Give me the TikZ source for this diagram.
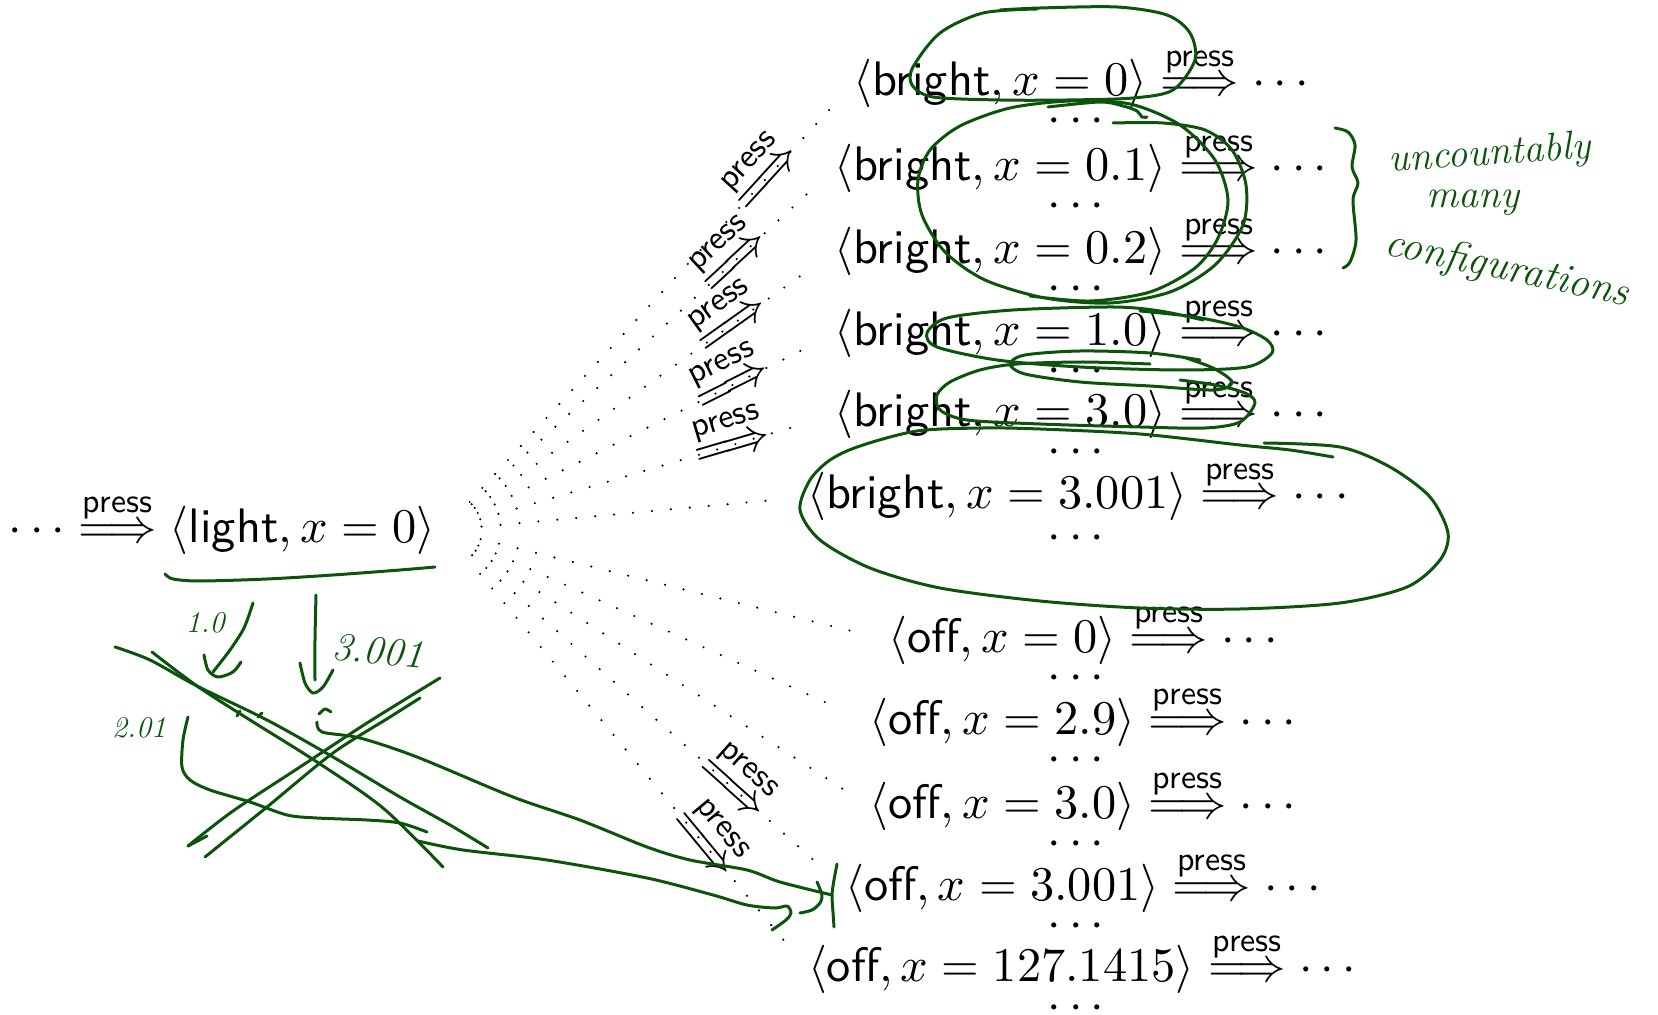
\documentclass[tikz,border=0pt]{standalone}
\usepackage{amsmath}
\usepackage[no-math]{fontspec}
\setsansfont{lmsans10-regular.otf}
\usetikzlibrary{calc}
\DeclareFontShape{OT1}{cmr}{m}{n}{<->cmr10}{}
\DeclareFontShape{OML}{cmm}{m}{it}{<->cmmi10}{}
\DeclareFontShape{OMS}{cmsy}{m}{n}{<->cmsy10}{}
\DeclareFontShape{OMX}{cmex}{m}{n}{<->cmex10}{}
\definecolor{ink}{RGB}{12,84,12}
\newcommand{\pressarr}{\overset{\text{\sffamily press}}{\Longrightarrow}}
\tikzset{
  conf/.style={anchor=base, inner sep=0pt, font=\fontsize{24.2pt}{29pt}\selectfont},
  diag/.style={sloped, anchor=base, inner sep=0pt, font=\fontsize{24.2pt}{29pt}\selectfont},
  ray/.style={line width=1.2pt, line cap=round, dash pattern=on 0pt off 9.5pt, shorten >=15pt},
  hand/.style={draw=ink, line width=1.5pt, line cap=round, line join=round},
  handtext/.style={text=ink, inner sep=0pt, font=\itshape\fontsize{20pt}{24pt}\selectfont},
}
\begin{document}
\begin{tikzpicture}[x=0.5pt, y=-0.5pt]
\useasboundingbox (0,0) rectangle (1658,1015);

% left configuration
\node[conf] (light) at (222,542) {$\cdots \pressarr \langle\textsf{light}, x = 0\rangle$};
\coordinate (fan) at ($(light.base east)+(8,-12)$);

% right configurations
\node[conf] (b0)    at (1085,96)  {$\langle\textsf{bright}, x = 0\rangle \pressarr \cdots$};
\node[conf] (b01)   at (1085,181) {$\langle\textsf{bright}, x = 0.1\rangle \pressarr \cdots$};
\node[conf] (b02)   at (1085,264) {$\langle\textsf{bright}, x = 0.2\rangle \pressarr \cdots$};
\node[conf] (b10)   at (1085,346) {$\langle\textsf{bright}, x = 1.0\rangle \pressarr \cdots$};
\node[conf] (b30)   at (1085,427) {$\langle\textsf{bright}, x = 3.0\rangle \pressarr \cdots$};
\node[conf] (b3001) at (1082,509) {$\langle\textsf{bright}, x = 3.001\rangle \pressarr \cdots$};
\node[conf] (o0)    at (1087,652) {$\langle\textsf{off}, x = 0\rangle \pressarr \cdots$};
\node[conf] (o29)   at (1087,734) {$\langle\textsf{off}, x = 2.9\rangle \pressarr \cdots$};
\node[conf] (o30)   at (1087,818) {$\langle\textsf{off}, x = 3.0\rangle \pressarr \cdots$};
\node[conf] (o3001) at (1087,900) {$\langle\textsf{off}, x = 3.001\rangle \pressarr \cdots$};
\node[conf] (o127)  at (1086,981) {$\langle\textsf{off}, x = 127.1415\rangle \pressarr \cdots$};

% dots below each configuration
\node[conf] (c0)  at (1080,133)  {$\cdots$};
\node[conf] (c1)  at (1080,218)  {$\cdots$};
\node[conf] (c2)  at (1080,301)  {$\cdots$};
\node[conf] (c3)  at (1080,383)  {$\cdots$};
\node[conf] (c4)  at (1080,464)  {$\cdots$};
\node[conf] (c5)  at (1080,549)  {$\cdots$};
\node[conf] (c6)  at (1080,689)  {$\cdots$};
\node[conf] (c7)  at (1080,771)  {$\cdots$};
\node[conf] (c8)  at (1080,855)  {$\cdots$};
\node[conf] (c9)  at (1080,937)  {$\cdots$};
\node[conf] (c10) at (1080,1019) {$\cdots$};

% fan of dotted successor lines
\begin{scope}
\clip (469,0) rectangle (1658,1015);
\foreach \n in {b0,b01,b02,b10,b30,b3001,o0,o29,o30,o3001,o127}
  \draw[ray] (fan) -- ($(\n.base west)+(0,-12)$);
\end{scope}
\path (fan) -- node[diag,pos=.79] (p1) {\raisebox{-6.05pt}{$\pressarr$}} ($(b0.base west)+(0,-12)$);
\path (fan) -- node[diag,pos=.745] (p2) {\raisebox{-6.05pt}{$\pressarr$}} ($(b01.base west)+(0,-12)$);
\path (fan) -- node[diag,pos=.74] (p3) {\raisebox{-6.05pt}{$\pressarr$}} ($(b02.base west)+(0,-12)$);
\path (fan) -- node[diag,pos=.74] (p4) {\raisebox{-6.05pt}{$\pressarr$}} ($(b10.base west)+(0,-12)$);
\path (fan) -- node[diag,pos=.74] (p5) {\raisebox{-6.05pt}{$\pressarr$}} ($(b30.base west)+(0,-12)$);
\path (fan) -- node[diag,pos=.72] (p6) {\raisebox{-6.05pt}{$\pressarr$}} ($(o3001.base west)+(0,-12)$);
\path (fan) -- node[diag,pos=.715] (p7) {\raisebox{-6.05pt}{$\pressarr$}} ($(o127.base west)+(0,-12)$);

% ---------- handwritten annotations ----------
% underline of light
\draw[hand] plot[smooth] coordinates {(165,574) (173,579) (200,581) (267,579) (333,575) (400,570) (435,567)};
% 1.0 arrow
\draw[hand] plot[smooth] coordinates {(253,603) (244,628) (230,650) (213,672)};
\draw[hand] plot[smooth] coordinates {(204,655) (208,670) (218,677) (233,672) (241,662)};
\node[handtext, font=\itshape\fontsize{15pt}{18pt}\selectfont] (t10) at (205,623) {1.0};
% 3.001 arrow
\draw[hand] plot[smooth] coordinates {(316,595) (315,640) (315,680)};
\draw[hand] plot[smooth] coordinates {(300,663) (305,683) (313,693) (323,687) (333,670)};
\node[handtext, rotate=-5] (t3001) at (378,651) {3.001};
% 2.01 bracket
\node[handtext, font=\itshape\fontsize{15pt}{18pt}\selectfont] (t201) at (139,728) {2.01};
\draw[hand] plot[smooth] coordinates {(188,717) (183,740) (182,767) (190,780) (210,790) (250,802) (287,815) (317,818) (367,820) (400,823) (427,832)};
% crossing lines
\draw[hand] plot[smooth] coordinates {(115,647) (150,660) (197,686) (267,720) (333,757) (400,797) (450,825) (488,848)};
\draw[hand] plot[smooth] coordinates {(152,652) (197,686) (250,720) (317,762) (383,808) (443,867)};
\draw[hand] (207,836) -- (188,846);
\draw[hand] plot[smooth] coordinates {(188,846) (233,811) (300,767) (367,723) (440,678)};
\draw[hand] plot[smooth] coordinates {(205,857) (267,807) (333,753) (390,717) (420,698)};
\draw[hand] plot[smooth] coordinates {(319,714) (325,709) (331,712)};
\draw[hand] (237,716) -- (240,711);
\draw[hand] (258,717) -- (262,713);
% long strokes to off 3.001
\draw[hand] plot[smooth] coordinates {(317,722) (322,732) (360,738) (417,757) (513,797) (580,820) (647,847) (690,860) (747,870) (780,882) (832,895)};
\draw[hand] plot[smooth] coordinates {(418,841) (463,850) (547,860) (647,878) (713,895) (747,905) (775,908) (787,906) (791,913) (786,920) (772,930)};
\draw[hand] plot[smooth] coordinates {(800,913) (812,910) (820,903) (822,895) (817,882)};
\draw[hand] plot[smooth] coordinates {(837,864) (834,880) (832,895) (833,912) (834,927)};
% loop around bright 0
\draw[hand] plot[smooth] coordinates {(1037,9) (983,13) (940,33) (913,67) (912,85) (933,97) (1000,100) (1067,100) (1133,98) (1173,90) (1195,60) (1190,33) (1167,15) (1117,7) (1040,8) (1000,10)};
\draw[hand] plot[smooth] coordinates {(1048,107) (1100,102) (1123,106) (1137,111) (1142,117) (1147,117)};
% double loop around bright 0.1, 0.2
\draw[hand] plot[smooth] coordinates {(1113,123) (1163,123) (1205,130) (1232,150) (1246,185) (1243,225) (1215,265) (1170,292) (1110,303) (1045,298) (985,280) (945,252) (922,215) (918,180) (930,150) (960,126) (1010,108) (1070,101) (1130,104) (1180,125) (1215,160) (1228,200) (1218,238) (1195,268) (1150,292) (1090,301) (1030,296)};
% loop around bright 1.0
\draw[hand] plot[smooth] coordinates {(1203,320) (1160,311) (1113,307) (1013,310) (947,318) (927,333) (937,347) (997,360) (1080,367) (1180,370) (1247,367) (1272,353) (1267,340) (1240,327) (1195,317) (1140,311)};
% loops around dots and bright 3.0
\draw[hand] plot[smooth] coordinates {(1183,357) (1213,368) (1232,382) (1215,390) (1150,386) (1080,382) (1025,374) (1010,364) (1025,355) (1080,351) (1150,353) (1200,360)};
\draw[hand] plot[smooth] coordinates {(1180,380) (1215,385) (1245,393) (1255,403) (1240,422) (1205,428) (1140,427) (1040,424) (967,420) (940,410) (937,395) (950,382) (980,370) (1017,364) (1083,362) (1150,364)};
% loop around bright 3.001
\draw[hand] plot[smooth] coordinates {(1264,443) (1340,447) (1390,467) (1430,497) (1448,533) (1440,560) (1407,587) (1340,603) (1240,609) (1140,608) (1040,601) (940,588) (870,568) (820,540) (800,510) (810,480) (830,460) (860,446) (917,431) (983,428) (1040,429) (1140,434) (1240,445) (1290,450) (1333,457)};
% brace and note
\draw[hand] plot[smooth] coordinates {(1335,128) (1348,132) (1355,145) (1352,167) (1358,183) (1353,200) (1356,240) (1350,262) (1343,268)};
\node[handtext, rotate=4] (n1) at (1490,155) {uncountably};
\node[handtext] (n2) at (1473,203) {many};
\node[handtext, rotate=-12, font=\itshape\fontsize{21pt}{25pt}\selectfont] (n3) at (1507,270) {configurations};
\end{tikzpicture}
\end{document}
